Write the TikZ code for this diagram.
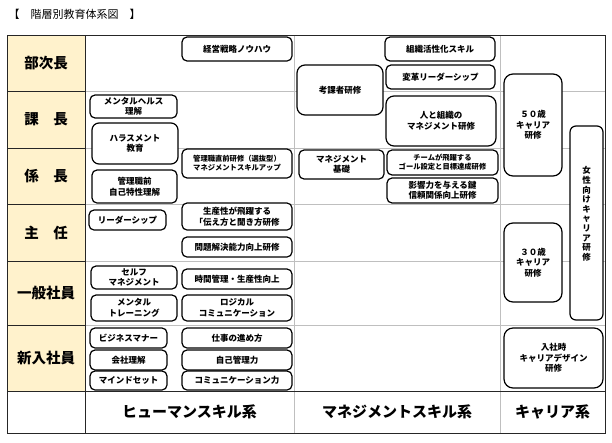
\documentclass[tikz,border=0pt]{standalone}
\usepackage{fontspec}
\setmainfont{Noto Sans CJK JP}
\usetikzlibrary{positioning}
\definecolor{headfill}{HTML}{FFF2CC}
\definecolor{gridgray}{HTML}{BFBFBF}
\tikzstyle{course}=[draw, rounded corners=5pt, line width=1.2pt, fill=white, align=center, inner sep=0pt, font=\fontsize{8.5}{10.5}\selectfont\bfseries]
\tikzstyle{small}=[font=\fontsize{7.3}{9}\selectfont\bfseries]
\tikzstyle{rowlabel}=[font=\fontsize{14.5}{16}\selectfont\bfseries]
\tikzstyle{grouplabel}=[font=\fontsize{15}{17}\selectfont\bfseries]
\tikzstyle{thinline}=[draw=gridgray, line width=0.8pt]
\tikzstyle{darkline}=[draw=black!85, line width=1pt]

\begin{document}
\begin{tikzpicture}[x=1pt, y=-1pt]
            \useasboundingbox (0,0) rectangle (612,442);
            \node[anchor=west, font=\fontsize{11}{13}\selectfont] (title) at (5,14) {【　階層別教育体系図　】};

            % table
            \fill[headfill] (7,35) rectangle (85,391);
            \begin{scope}[every path/.style={thinline}]
                \foreach \y in {91,148,204,261,325}
                    \path (85,\y) -- (605,\y);
                \path (294,35) -- (294,433);
                \path (500,35) -- (500,433);
            \end{scope}
            \begin{scope}[every path/.style={darkline}]
                \foreach \y in {91,148,204,261,325}
                    \path (7,\y) -- (85,\y);
                \path (7,391) -- (605,391);
                \path (85,35) -- (85,433);
                \path (7,35) rectangle (605,433);
            \end{scope}

            \begin{scope}[every node/.style={rowlabel}]
                \node (bujicho) at (46,63) {部次長};
                \node (kacho) at (46,119.5) {課　長};
                \node (kakaricho) at (46,176) {係　長};
                \node (shunin) at (46,232.5) {主　任};
                \node (ippan) at (46,293) {一般社員};
                \node (shinnyu) at (46,358) {新入社員};
            \end{scope}

            \begin{scope}[every node/.style={grouplabel}]
                \node (human) at (189.5,412) {ヒューマンスキル系};
                \node (manage) at (397,412) {マネジメントスキル系};
                \node (career) at (552.5,412) {キャリア系};
            \end{scope}

            % human skill
            \node[course, minimum width=110, minimum height=24] (keiei) at (237,49) {経営戦略ノウハウ};
            \node[course, minimum width=87, minimum height=23] (mental) at (133.5,106.5) {メンタルヘルス\\理解};
            \node[course, minimum width=86, minimum height=41, rounded corners=7pt] (harass) at (135,143.5) {ハラスメント\\教育};
            \node[course, small, minimum width=110, minimum height=29] (chokuzen) at (237,163.5) {管理職直前研修（選抜型）\\マネジメントスキルアップ};
            \node[course, minimum width=85, minimum height=33] (jiko) at (134.5,186.5) {管理職前\\自己特性理解};
            \node[course, minimum width=77, minimum height=20] (leader) at (127.5,220) {リーダーシップ};
            \node[course, minimum width=110, minimum height=27] (seisan) at (237,216.5) {生産性が飛躍する\\「伝え方と聞き方研修};
            \node[course, minimum width=110, minimum height=20] (mondai) at (237,247) {問題解決能力向上研修};
            \node[course, minimum width=86, minimum height=23] (self) at (134,277.5) {セルフ\\マネジメント};
            \node[course, minimum width=110, minimum height=20] (jikan) at (237,279) {時間管理・生産性向上};
            \node[course, minimum width=86, minimum height=26] (mtrain) at (134,308) {メンタル\\トレーニング};
            \node[course, minimum width=110, minimum height=26] (logical) at (237,308) {ロジカル\\コミュニケーション};
            \node[course, minimum width=77, minimum height=20] (manner) at (128.5,338) {ビジネスマナー};
            \node[course, minimum width=110, minimum height=20] (susume) at (237,338) {仕事の進め方};
            \node[course, minimum width=77, minimum height=20] (kaisha) at (128.5,360) {会社理解};
            \node[course, minimum width=110, minimum height=20] (jikokanri) at (237,360) {自己管理力};
            \node[course, minimum width=77, minimum height=19] (mind) at (128.5,380.5) {マインドセット};
            \node[course, minimum width=110, minimum height=19] (comm) at (237,380.5) {コミュニケーション力};

            % management skill
            \node[course, minimum width=86, minimum height=50, rounded corners=8pt] (koka) at (340,90) {考課者研修};
            \node[course, minimum width=110, minimum height=24] (soshiki) at (440,49) {組織活性化スキル};
            \node[course, minimum width=109, minimum height=24] (henkaku) at (440.5,77) {変革リーダーシップ};
            \node[course, minimum width=110, minimum height=50, rounded corners=8pt] (hito) at (441,121) {人と組織の\\マネジメント研修};
            \node[course, minimum width=85, minimum height=29] (kiso) at (341.5,164.5) {マネジメント\\基礎};
            \node[course, small, minimum width=111, minimum height=25] (team) at (442.5,162.5) {チームが飛躍する\\ゴール設定と目標達成研修};
            \node[course, minimum width=111, minimum height=25] (eikyo) at (442.5,190.5) {影響力を与える鍵\\信頼関係向上研修};

            % career
            \node[course, minimum width=58, minimum height=102, rounded corners=9pt] (career50) at (533,125) {５０歳\\キャリア\\研修};
            \node[course, minimum width=58, minimum height=79, rounded corners=9pt] (career30) at (533,262.5) {３０歳\\キャリア\\研修};
            \node[course, minimum width=33, minimum height=194, rounded corners=6pt, text depth=19pt, font=\fontsize{8.5}{9.6}\selectfont\bfseries] (josei) at (586.5,223) {女\\性\\向\\け\\キ\\ャ\\リ\\ア\\研\\修};
            \node[course, minimum width=99, minimum height=60, rounded corners=9pt] (nyusha) at (553.5,358) {入社時\\キャリアデザイン\\研修};
        \end{tikzpicture}
\end{document}
